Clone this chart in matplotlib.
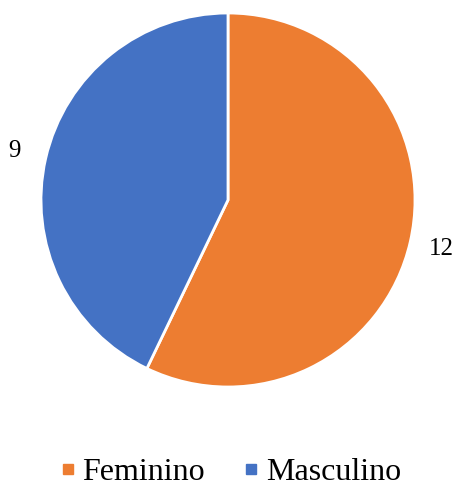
import matplotlib.pyplot as plt
from matplotlib.lines import Line2D

plt.rcParams['font.family'] = ['Liberation Serif', 'DejaVu Serif']

categories = ['Feminino', 'Masculino']
values = [12, 9]
colors = ['#ED7D31', '#4472C4']

fig = plt.figure(figsize=(4.58, 4.87), dpi=100)
ax = fig.add_axes([41 / 458, 100 / 487, 374 / 458, 374 / 487])

wedges, texts = ax.pie(values, labels=[str(v) for v in values], colors=colors,
                       startangle=90, counterclock=False, labeldistance=1.17,
                       wedgeprops=dict(edgecolor='white', linewidth=2),
                       textprops=dict(fontsize=18))
for t in texts:
    t.set_horizontalalignment('center')
    t.set_verticalalignment('center')
ax.set_aspect('equal')
ax.set_xlim(-1, 1)
ax.set_ylim(-1, 1)

handles = [Line2D([], [], marker='s', linestyle='', markersize=7.5,
                  markerfacecolor=c, markeredgecolor=c) for c in colors]
fig.legend(handles, categories, loc='center', bbox_to_anchor=(0.5, 1 - 472 / 487),
           ncol=2, frameon=False, fontsize=23, handletextpad=0.1,
           columnspacing=1.1, handlelength=0.7)

fig.savefig('out.png', dpi=100)
